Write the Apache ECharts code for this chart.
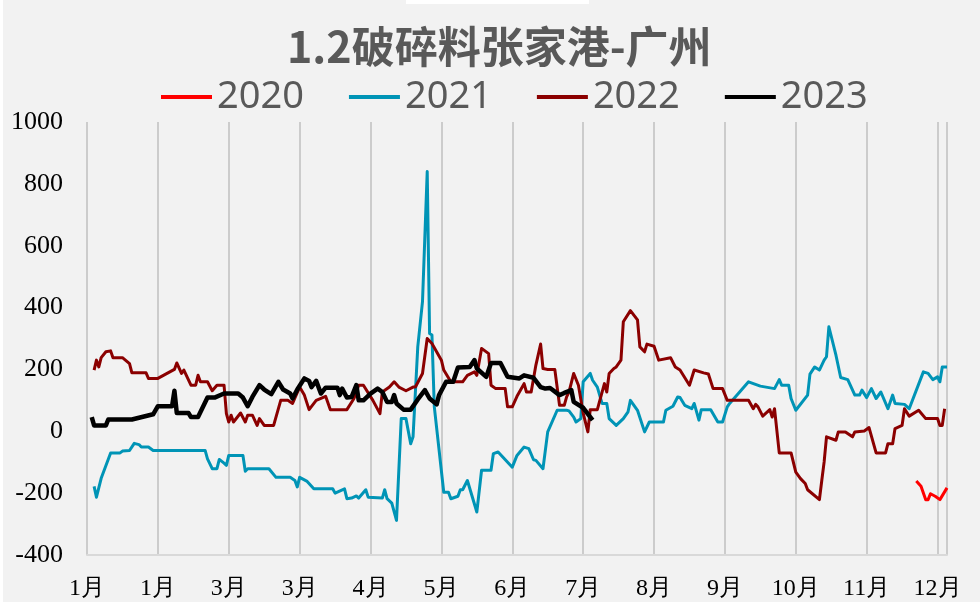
<!DOCTYPE html>
<html>
<head>
<meta charset="utf-8">
<script src="https://cdn.jsdelivr.net/npm/echarts@6/dist/echarts.min.js"></script>
<style>
  html, body { margin: 0; padding: 0; background: #f2f2f2; }
  #chart { width: 980px; height: 602px; }
</style>
</head>
<body>
<div id="chart"></div>
<script>
// ─── Data ─────────────────────────────────────────────────────────────────
// x = day of year (0 = 1 Jan), y = spread in yuan/ton

const monthLabels = ["1月", "1月", "3月", "3月", "4月", "5月", "6月", "7月", "8月", "9月", "10月", "11月", "12月"];
const seriesNames = ["2020", "2021", "2022", "2023"];

const data2020 = [
  [351, -161], [353, -178], [355, -221], [356, -221], [357, -202], [359, -210], [361, -221], [364, -183]
];

const data2021 = [
  [3, -178], [4, -213], [6, -152], [10, -70], [14, -70], [15, -64], [18, -62], [20, -39], [22, -43],
  [23, -51], [26, -51], [28, -62], [50, -62], [51, -89], [53, -121], [55, -121], [56, -91], [58, -103],
  [59, -110], [60, -78], [66, -78], [67, -129], [68, -121], [77, -121], [80, -149], [86, -149], [88, -159],
  [89, -180], [90, -149], [93, -161], [96, -186], [104, -186], [105, -200], [109, -186], [110, -218],
  [112, -216], [114, -209], [115, -216], [118, -189], [119, -213], [125, -216], [126, -189], [127, -218],
  [129, -232], [131, -288], [133, 41], [135, 41], [137, -40], [138, -18], [140, 273], [142, 419],
  [144, 840], [145, 316], [146, 311], [147, 79], [151, -197], [153, -197], [154, -218], [157, -210],
  [158, -189], [159, -189], [161, -159], [165, -261], [167, -126], [171, -126], [172, -72], [174, -67],
  [180, -116], [182, -78], [185, -51], [187, -56], [189, -92], [190, -94], [193, -121], [195, -2],
  [199, 68], [203, 68], [204, 66], [206, 46], [207, 30], [209, 41], [210, 160], [213, 187], [214, 165],
  [216, 143], [218, 90], [220, 90], [221, 41], [224, 19], [227, 41], [229, 63], [230, 100], [233, 68],
  [236, -2], [238, 30], [244, 30], [245, 68], [248, 81], [250, 111], [251, 109], [253, 84], [256, 73],
  [257, 90], [259, 36], [260, 70], [264, 70], [267, 30], [269, 30], [271, 79], [272, 90], [280, 160],
  [285, 146], [291, 138], [293, 167], [294, 149], [297, 149], [298, 106], [300, 68], [305, 117],
  [306, 185], [308, 208], [310, 198], [312, 230], [313, 241], [314, 338], [317, 246], [319, 174],
  [322, 167], [325, 117], [327, 117], [328, 133], [330, 109], [332, 138], [334, 106], [336, 127],
  [339, 73], [341, 117], [342, 90], [346, 87], [348, 73], [354, 192], [356, 187], [358, 167],
  [360, 176], [361, 160], [362, 208], [364, 208]
];

const data2022 = [
  [3, 198], [4, 230], [5, 208], [6, 238], [8, 257], [10, 260], [11, 238], [15, 238], [18, 219],
  [19, 189], [25, 189], [26, 171], [30, 171], [37, 200], [38, 221], [40, 187], [41, 198], [44, 149],
  [46, 149], [47, 181], [48, 160], [51, 160], [53, 131], [55, 149], [58, 149], [59, 57], [60, 30],
  [61, 52], [62, 30], [65, 59], [67, 30], [68, 52], [70, 52], [72, 19], [73, 41], [75, 19], [79, 19],
  [82, 100], [85, 100], [87, 90], [90, 143], [92, 117], [94, 70], [97, 100], [101, 113], [103, 70],
  [110, 70], [113, 106], [115, 149], [117, 149], [121, 100], [124, 57], [125, 127], [128, 143],
  [130, 160], [132, 143], [135, 131], [138, 143], [139, 143], [142, 187], [144, 300], [146, 284],
  [150, 230], [151, 198], [154, 160], [159, 160], [161, 181], [164, 192], [165, 181], [167, 268],
  [170, 251], [171, 149], [173, 138], [177, 138], [178, 79], [180, 79], [182, 113], [185, 154],
  [186, 127], [188, 127], [190, 214], [192, 282], [193, 203], [195, 200], [198, 200], [200, 84],
  [202, 84], [203, 111], [204, 127], [206, 187], [208, 149], [210, 59], [212, -2], [213, 70],
  [216, 70], [219, 154], [220, 127], [221, 187], [223, 203], [224, 208], [226, 230], [227, 354],
  [230, 390], [233, 360], [234, 273], [236, 257], [237, 282], [240, 275], [242, 230], [247, 238],
  [249, 208], [251, 198], [255, 149], [257, 198], [261, 189], [263, 185], [265, 138], [269, 138],
  [271, 100], [280, 100], [282, 73], [283, 87], [284, 79], [286, 49], [289, 70], [290, 46], [291, 73],
  [293, -70], [298, -70], [300, -132], [302, -153], [304, -169], [305, -189], [310, -221], [311, -159],
  [312, -99], [313, -18], [317, -29], [318, -2], [321, -2], [324, -18], [325, -2], [329, 1], [331, 12],
  [334, -70], [338, -70], [339, -40], [341, -40], [342, 9], [345, 19], [346, 73], [348, 49], [352, 68],
  [355, 41], [360, 41], [361, 19], [362, 19], [363, 73]
];

const data2023 = [
  [2, 46], [3, 19], [8, 19], [9, 38], [19, 38], [28, 55], [30, 81], [36, 81], [37, 131], [38, 59],
  [43, 59], [44, 46], [47, 46], [51, 109], [54, 109], [58, 122], [64, 122], [66, 109], [68, 81],
  [70, 111], [73, 149], [75, 135], [78, 120], [81, 160], [83, 135], [86, 122], [87, 106], [89, 135],
  [92, 171], [94, 163], [95, 143], [97, 163], [99, 122], [101, 141], [106, 141], [107, 117], [108, 138],
  [110, 109], [112, 111], [114, 149], [115, 100], [117, 100], [120, 122], [123, 138], [125, 127],
  [127, 95], [129, 95], [130, 117], [131, 90], [134, 70], [137, 70], [140, 103], [143, 133], [145, 106],
  [148, 87], [149, 117], [152, 160], [155, 160], [157, 206], [162, 208], [164, 230], [165, 203],
  [169, 176], [171, 221], [175, 221], [178, 176], [183, 171], [185, 181], [189, 173], [192, 143],
  [194, 138], [196, 140], [200, 117], [202, 124], [205, 133], [206, 95], [210, 76], [214, 36]
];

const seriesData = [data2020, data2021, data2022, data2023];
const seriesColors = ["#ff0000", "#0094b6", "#8b0000", "#000000"];
const seriesWidths = [3, 3, 3, 4.5];

// ─── Options ──────────────────────────────────────────────────────────────

function makeSeries() {
  return seriesNames.map((name, i) => ({
    name,
    type: 'line',
    xAxisIndex: 0,
    data: seriesData[i],
    symbol: 'none',
    color: seriesColors[i],
    lineStyle: { width: seriesWidths[i], color: seriesColors[i], join: 'round' },
    z: 3 + i
  }));
}

function makeOptions() {
  return {
    backgroundColor: '#f2f2f2',
    animation: false,
    title: {
      text: '1.2破碎料张家港-广州',
      left: 287,
      top: 25,
      padding: 0,
      textStyle: {
        fontFamily: 'Noto Sans CJK SC',
        fontSize: 43,
        fontWeight: 'bold',
        color: '#595959'
      }
    },
    legend: {
      data: seriesNames,
      left: 161,
      top: 78,
      padding: 0,
      icon: 'rect',
      itemWidth: 51,
      itemHeight: 4,
      itemGap: 45,
      textStyle: { fontFamily: 'Noto Sans', fontSize: 38, color: '#595959' }
    },
    grid: { left: 87, right: 33, top: 122, bottom: 47 },
    xAxis: [{
      type: 'value',
      min: 0,
      max: 364,
      interval: 30,
      axisLine: { show: false },
      axisTick: { show: false },
      splitLine: { show: true, lineStyle: { color: '#bfbfbf', width: 1.5 } },
      axisLabel: {
        margin: 22,
        fontFamily: 'Liberation Serif',
        fontSize: 24,
        color: '#000000',
        formatter: v => monthLabels[Math.round(v / 30)] ?? ''
      }
    }, {
      // zero line only
      type: 'value',
      min: 0,
      max: 364,
      position: 'bottom',
      axisLine: { show: true, onZero: true, lineStyle: { color: '#d9d9d9', width: 2 } },
      axisTick: { show: false },
      axisLabel: { show: false },
      splitLine: { show: false }
    }],
    yAxis: {
      type: 'value',
      min: -400,
      max: 1000,
      interval: 200,
      axisLine: { show: false },
      axisTick: { show: false },
      splitLine: { show: false },
      axisLabel: {
        margin: 24,
        fontFamily: 'Liberation Serif',
        fontSize: 26,
        color: '#000000',
        formatter: v => String(v)
      }
    },
    graphic: [
      { type: 'rect', left: 0, top: 0, shape: { width: 3, height: 602 }, style: { fill: '#ffffff' } },
      { type: 'rect', left: 406, top: 0, shape: { width: 183, height: 4 }, style: { fill: '#ffffff' } }
    ],
    series: makeSeries()
  };
}

// ─── Render ───────────────────────────────────────────────────────────────

const chart = echarts.init(document.getElementById('chart'));
chart.setOption(makeOptions());
</script>
</body>
</html>
